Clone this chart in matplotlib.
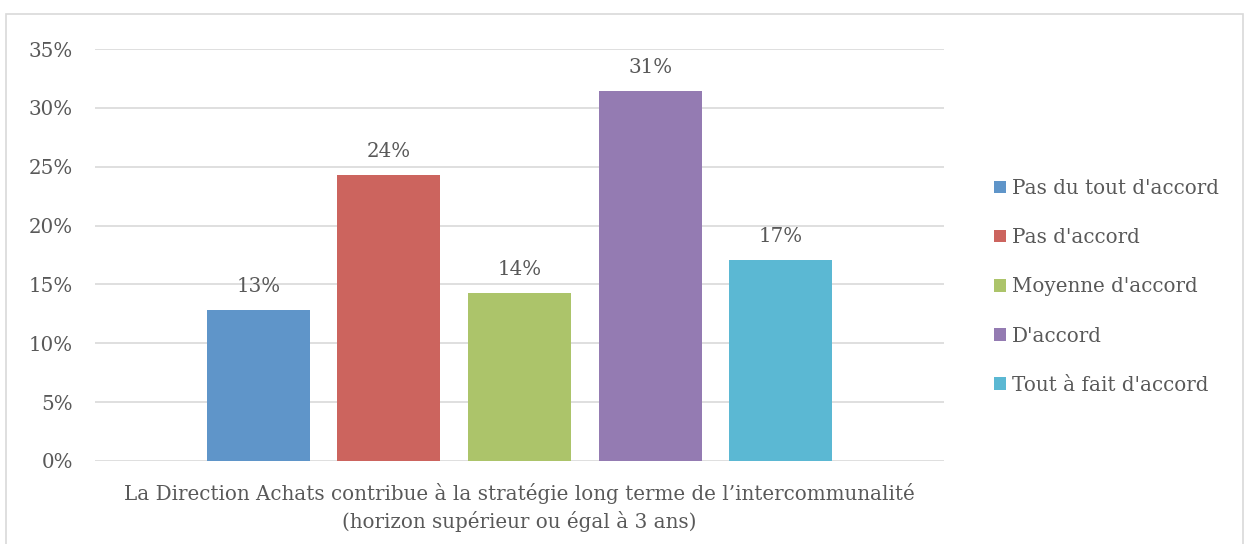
import matplotlib.pyplot as plt
from matplotlib.patches import Patch, Rectangle

plt.rcParams['font.family'] = ['DejaVu Serif']

# données
categories = ["Pas du tout d'accord", "Pas d'accord", "Moyenne d'accord",
              "D'accord", "Tout à fait d'accord"]
values = [12.85, 24.3, 14.3, 31.4, 17.1]
value_labels = ['13%', '24%', '14%', '31%', '17%']
colors = ['#5F95C9', '#CC645E', '#ACC46A', '#947BB2', '#5BB8D3']
ylabels = ['0%', '5%', '10%', '15%', '20%', '25%', '30%', '35%']
xlabel = ("La Direction Achats contribue à la stratégie long terme de l\u2019intercommunalité\n"
          "(horizon supérieur ou égal à 3 ans)")

txt = '#595959'
fs = 14.3

fig = plt.figure(figsize=(12.45, 5.44), dpi=100)
fig.patches.append(Rectangle((6 / 1245, -0.1), 1237 / 1245, 1 - 14 / 544 + 0.1,
                             transform=fig.transFigure, fill=False,
                             edgecolor='#D9D9D9', linewidth=1.2))
ax = fig.add_axes([95 / 1245, 1 - 461 / 544, (944 - 95) / 1245, (461 - 49) / 544])

x = list(range(len(values)))
bars = ax.bar(x, values, width=0.79, color=colors, zorder=3)
for xi, v, lab in zip(x, values, value_labels):
    ax.annotate(lab, (xi, v), xytext=(0, 10), textcoords='offset points',
                ha='center', va='bottom', fontsize=fs, color=txt)

ax.set_xlim(-1.25, 5.25)
ax.set_ylim(0, 35)
ax.set_yticks(range(0, 36, 5))
ax.set_yticklabels(ylabels)
ax.set_xticks([])
ax.yaxis.grid(True, color='#D9D9D9', linewidth=1.2, zorder=0)
ax.tick_params(axis='y', length=0, pad=16, labelsize=fs, labelcolor=txt)
for s in ax.spines.values():
    s.set_visible(False)
ax.set_xlabel(xlabel, fontsize=fs, color=txt, labelpad=16, linespacing=1.4)

handles = [Patch(facecolor=c) for c in colors]
fig.legend(handles, categories, loc='upper left',
           bbox_to_anchor=(986 / 1245, 1 - 171 / 544), frameon=False,
           fontsize=fs, labelcolor=txt, handlelength=0.6, handleheight=0.6,
           handletextpad=0.3, labelspacing=1.52, borderaxespad=0)

fig.savefig('out.png', dpi=100)
